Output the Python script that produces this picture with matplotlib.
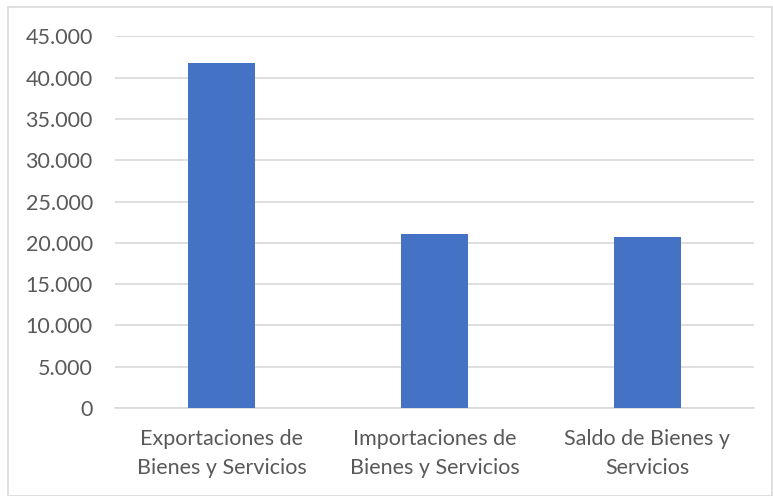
import matplotlib
matplotlib.use("Agg")
import matplotlib.pyplot as plt
from matplotlib.patches import Rectangle
from matplotlib.ticker import FuncFormatter, MultipleLocator

categories = ["Exportaciones de\nBienes y Servicios",
              "Importaciones de\nBienes y Servicios",
              "Saldo de Bienes y\nServicios"]
values = [41730, 21030, 20700]

plt.rcParams["font.family"] = ["Lato", "DejaVu Sans"]

fig = plt.figure(figsize=(7.73, 4.96), dpi=100)
fig.patch.set_facecolor("white")
ax = fig.add_axes([115 / 773, 88 / 496, (754 - 115) / 773, (408 - 36.3) / 496])

x = range(len(categories))
ax.bar(x, values, width=0.31, color="#4472C4", zorder=3)

ax.set_xlim(-0.5, 2.5)
ax.set_ylim(0, 45000)
ax.yaxis.set_major_locator(MultipleLocator(5000))
ax.yaxis.set_major_formatter(FuncFormatter(lambda v, p: f"{int(v):,}".replace(",", ".")))
ax.grid(axis="y", color="#d9d9d9", linewidth=1.2, zorder=0)

ax.set_xticks(list(x))
ax.set_xticklabels(categories, linespacing=1.6)
for s in ["top", "right", "left"]:
    ax.spines[s].set_visible(False)
ax.spines["bottom"].set_color("#d9d9d9")
ax.spines["bottom"].set_linewidth(1.2)
ax.tick_params(axis="both", length=0, labelsize=15.5, colors="#595959")
ax.tick_params(axis="y", pad=16)
ax.tick_params(axis="x", pad=15)

fig.add_artist(Rectangle((8 / 773, 0.5 / 496), 763.5 / 773, (489 - 0.5) / 496,
                         transform=fig.transFigure, fill=False,
                         edgecolor="#d9d9d9", linewidth=1.2))

fig.savefig("out.png", dpi=100)
